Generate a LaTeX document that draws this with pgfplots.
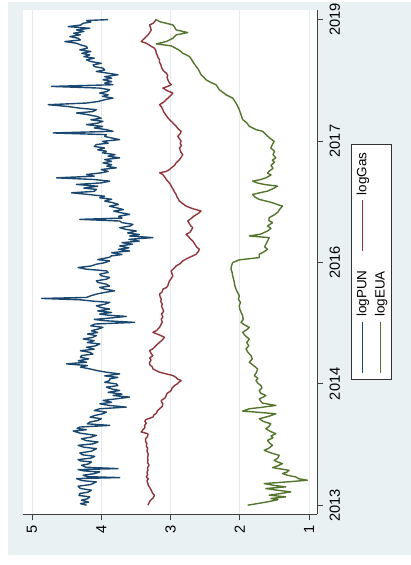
\documentclass[border=0pt]{standalone}
\usepackage{pgfplots}
\usepackage{pgfplotstable}
\pgfplotsset{compat=1.18}
\usepackage{fontspec}
\setmainfont{Liberation Sans}

% Stata s2color palette
\definecolor{stnavy}{RGB}{26,71,111}
\definecolor{stmaroon}{RGB}{144,53,59}
\definecolor{stgreen}{RGB}{85,117,47}
\definecolor{stbg}{RGB}{234,241,243}
\definecolor{stgrid}{RGB}{228,236,239}

% idx = trading-day index (0 = start of 2013), value in logs
\pgfplotstableread{
idx val
0 4.213
5 4.30
10 4.18
16.5 4.285
21 4.20
27.4 4.165
32 4.32
38.4 4.309
43 4.19
49.3 4.141
55 4.30
62.5 4.333
68 4.15
76.7 4.070
81 4.28
87.6 4.357
90.9 3.734
94 4.20
98.6 4.261
104 4.10
109.5 4.022
113 4.25
117.2 4.333
120.5 3.758
125 4.22
131.5 4.285
136 4.18
142.4 4.141
146 4.30
150.1 4.333
155 4.15
161.0 4.093
166 4.27
172.0 4.309
178 4.14
186.2 4.070
191 4.25
197.2 4.333
202 4.12
208.1 4.046
213 4.22
219.1 4.285
224 4.15
230.0 4.070
237 4.30
244.2 4.405
248.6 4.213
253 4.35
257.4 4.309
262.9 3.878
268 4.20
273.8 4.165
279 4.05
284.8 3.998
290 4.16
295.7 4.093
301 3.98
306.7 3.926
312 4.10
317.6 4.022
323.1 3.638
328.6 3.878
334 4.02
339 3.85
345.0 3.974
350 3.80
356.0 3.590
361.4 3.830
366 3.70
372 3.90
377.8 3.734
383 3.85
388.8 3.926
394 3.76
399.7 3.782
405 3.95
410.7 3.878
416.2 3.878
421 3.76
426 3.95
432.6 3.734
438.1 3.926
443 4.05
449.1 4.165
455 4.30
460 4.20
465.5 4.501
471.0 4.213
476 4.33
482 4.18
487 4.30
492.9 4.285
498 4.12
503.8 4.165
509 4.30
514 4.10
520.3 4.213
525 4.08
531.2 4.022
536 4.20
542 4.10
547.6 4.261
553 4.12
558.6 4.070
564 4.20
569 4.05
575.0 4.141
580 4.05
586.0 3.974
591 4.15
596.9 4.093
602.4 3.518
607.9 3.950
612 4.10
617 3.85
622.1 3.638
626 3.90
629.8 4.022
635 3.85
640 4.05
646.2 3.878
651 4.00
657.1 4.070
662 3.95
668.1 3.878
672 4.10
676.8 4.309
681.2 4.861
684.5 4.213
690 4.15
695.5 4.070
701 3.95
706.4 3.806
712 3.95
717.4 4.022
722 3.88
728.3 3.926
734 4.05
739.3 4.070
745 3.92
750.2 3.878
756 4.00
761.2 4.022
767 3.90
772.1 3.926
777.6 4.213
783.1 4.333
788 4.15
794.0 4.070
799 3.95
805.0 3.878
809 4.05
812.6 3.974
817 3.88
821.4 3.854
826 3.70
832 3.85
837.8 3.590
843 3.75
848 3.60
854.2 3.734
860 3.55
865 3.70
870 3.45
876 3.60
881.6 3.254
887.0 3.590
892 3.45
897 3.62
903.5 3.494
909 3.65
914.4 3.734
920 3.58
925.4 3.542
931 3.70
936.3 3.734
941.8 4.309
946 3.70
952 3.75
958.2 3.590
963 3.70
969 3.82
974 3.68
980.1 3.782
985 3.88
991 3.75
996.6 3.830
1002 3.95
1008 3.85
1013.0 4.022
1018 3.95
1023 4.15
1029.4 4.429
1034 4.10
1040.4 4.070
1045 4.25
1051 4.05
1056.8 4.357
1062 4.00
1067.7 3.878
1073 4.10
1078.7 4.645
1084 4.10
1089.6 4.213
1095 4.00
1100 3.90
1106 4.00
1111.5 3.782
1117 3.92
1122 3.85
1128.0 3.974
1133 3.85
1139 3.95
1144.4 3.734
1150 3.90
1155 3.80
1161 3.98
1166.3 3.926
1171 4.05
1177 3.95
1182 4.10
1188.2 4.070
1193 3.90
1199 3.98
1204.6 3.734
1210 3.85
1215 3.95
1221.0 3.926
1226.5 4.693
1232.0 3.830
1237.5 3.926
1243 4.10
1248 3.98
1253.9 4.213
1259 4.05
1264.9 3.974
1270 4.15
1275 4.00
1281.3 4.070
1287 4.20
1292.3 4.357
1297 4.12
1303.2 4.070
1308 4.30
1314.2 4.501
1319.6 4.765
1325.1 4.213
1330 4.05
1336 3.95
1341.5 3.830
1347 3.98
1352 3.90
1358.0 4.022
1363 3.92
1368.9 3.878
1374.4 4.022
1379.9 4.717
1385.4 3.830
1391 3.95
1396 3.85
1401.8 3.974
1407 3.85
1412 3.95
1418.2 3.758
1424 3.92
1429.2 4.070
1434 3.95
1440.1 3.974
1445 4.10
1451.1 4.117
1456 4.00
1462 4.15
1467.5 4.213
1473 4.10
1478 4.25
1483.9 4.165
1489 4.28
1495 4.15
1500.3 4.309
1506 4.20
1511.3 4.213
1517 4.30
1522.2 4.357
1527.7 4.525
1533 4.30
1538.7 4.333
1544.1 4.453
1550 4.30
1555 4.40
1561 4.25
1566.1 4.357
1571.5 4.165
1577.0 4.477
1582 4.30
1588.0 4.261
1592 4.15
1597.0 4.213
1600.0 3.902
}\pun

\pgfplotstableread{
idx val
0 3.326
8 3.31
16 3.29
24 3.25
32.9 3.230
40 3.26
49.3 3.278
58 3.30
65 3.32
71.2 3.326
80 3.34
87 3.32
93.1 3.350
100 3.33
108 3.34
115.0 3.326
124 3.33
132 3.31
140 3.33
147.9 3.326
158 3.33
168 3.32
178 3.34
188 3.33
195 3.35
202.6 3.341
210 3.36
219.1 3.360
227 3.33
235.5 3.326
241.0 3.422
248 3.40
255 3.37
262.9 3.374
270 3.35
276 3.37
281.5 3.360
290.2 3.254
297 3.24
304 3.20
311 3.19
317.6 3.158
325 3.12
334.1 3.110
340 3.13
345.0 3.134
353 3.08
361.4 3.062
368 3.05
377.8 2.990
385 2.98
394.3 2.942
400 2.90
405 2.88
410.7 2.846
416 2.90
421 2.92
427.2 2.966
432 3.05
438.1 3.158
443 3.20
449.1 3.254
455 3.26
463 3.30
471.0 3.302
478 3.28
485 3.30
492.9 3.254
500 3.28
509.3 3.302
516 3.25
523 3.22
530 3.19
536.7 3.158
544 3.12
553.1 3.086
560 3.15
569.5 3.254
576 3.20
586.0 3.158
594 3.14
603 3.12
613.3 3.134
620 3.11
630 3.13
638 3.10
646.2 3.110
655 3.13
663 3.12
671 3.14
679.0 3.134
687 3.15
695.5 3.158
703 3.12
711.9 3.110
717 3.06
722.9 3.038
730 3.03
739.3 3.014
747 2.99
755.7 2.966
763 2.98
772.1 2.990
780 2.95
788.5 2.918
796 2.86
805.0 2.823
813 2.76
821.4 2.679
826.8 2.631
835 2.60
843.2 2.583
850 2.62
857 2.64
864 2.66
870.6 2.679
877 2.71
885 2.74
892.5 2.775
899 2.72
906 2.70
914.4 2.679
921 2.71
929 2.73
936.3 2.751
945 2.70
953 2.66
961 2.60
969.2 2.559
977 2.68
985.6 2.775
993 2.82
1002.0 2.871
1010 2.89
1017 2.91
1023.9 2.919
1031 2.94
1040 2.96
1051.3 2.990
1060 3.01
1070 3.05
1080 3.08
1089.6 3.110
1095.1 3.158
1100 3.06
1106.1 3.014
1113 2.98
1120 2.94
1128.0 2.919
1136 2.88
1145 2.85
1155.3 2.823
1163 2.85
1170 2.86
1177.2 2.871
1185 2.84
1192 2.86
1199.1 2.847
1207 2.87
1215.6 2.895
1224 2.86
1232.0 2.847
1240 2.89
1248.5 2.919
1256 2.95
1263 2.98
1270.4 3.014
1280 3.05
1290 3.08
1297 3.10
1303.2 3.110
1312 3.13
1319.6 3.158
1328 3.10
1336.1 3.062
1345 3.02
1352 2.99
1358.0 2.966
1366 3.05
1374.4 3.110
1380 3.04
1385.4 2.990
1393 3.02
1401.8 3.038
1410 3.05
1417 3.04
1423.7 3.062
1431 3.10
1438 3.12
1445.6 3.134
1452 3.14
1460 3.16
1467.5 3.158
1475 3.18
1482 3.19
1489.4 3.206
1497 3.21
1505.8 3.230
1512 3.28
1517 3.31
1522.2 3.350
1527.7 3.422
1533 3.40
1538.7 3.374
1544 3.35
1549.6 3.326
1557 3.30
1566.1 3.278
1574 3.29
1582.5 3.302
1588 3.25
1593.4 3.230
1600.0 3.206
}\gas

\pgfplotstableread{
idx val
0 1.887
5 1.75
11.0 1.600
18 1.45
22 1.55
27.4 1.336
32.9 1.576
38 1.42
43.8 1.264
49 1.45
54.8 1.623
60.3 1.336
65 1.50
71.2 1.647
77 1.30
82.2 1.024
87 1.15
93.1 1.192
98 1.30
104.1 1.384
109 1.32
115.0 1.288
119 1.40
123.8 1.528
130 1.45
136.9 1.384
142 1.45
147.9 1.504
155 1.45
164.3 1.432
172 1.55
180.7 1.647
188 1.58
197.2 1.528
205 1.57
213.6 1.600
222 1.52
228 1.55
235.5 1.480
243 1.56
251.9 1.623
259 1.58
268.3 1.552
276 1.66
284.8 1.719
293 1.58
301.2 1.480
306.7 1.767
310.0 1.959
317.6 1.863
322 1.70
328.6 1.480
336.2 1.671
343 1.70
350.5 1.719
356 1.66
361.4 1.623
369 1.70
377.8 1.719
386 1.68
394.3 1.695
402 1.74
410.7 1.767
418 1.74
427.2 1.791
437 1.76
449.1 1.743
460 1.80
471.0 1.863
482 1.82
492.9 1.839
503 1.88
514.8 1.911
525 1.87
536 1.90
547.6 1.863
558 1.92
569.5 1.959
578 1.90
586.0 1.863
594 1.93
602.4 1.983
612 1.95
624.3 1.959
635 1.98
646 2.00
657.1 2.007
668 1.99
679 2.02
690.0 2.007
700 2.03
711.9 2.055
722 2.07
733.8 2.079
745 2.09
755.7 2.103
766 2.11
777.6 2.127
788 2.12
799.5 2.103
808.3 2.007
815.9 1.719
826.8 1.719
835 1.65
843.2 1.600
851 1.64
859.7 1.623
870 1.60
881.6 1.576
887.0 1.863
893 1.70
903.5 1.600
912 1.55
920 1.60
930.8 1.528
938 1.58
947.3 1.576
957 1.50
966 1.45
976 1.42
985.6 1.384
990 1.45
996.6 1.528
1002 1.62
1007.5 1.719
1015 1.78
1023.9 1.815
1030 1.70
1034.9 1.600
1043 1.52
1051.3 1.456
1056.8 1.647
1062 1.75
1067.7 1.815
1073 1.70
1078.7 1.623
1088 1.55
1094 1.60
1100.6 1.576
1110 1.52
1120 1.55
1130 1.50
1137 1.53
1144.4 1.480
1155 1.52
1166 1.50
1177.2 1.552
1188 1.53
1199.1 1.504
1210 1.57
1221.0 1.623
1232.0 1.671
1237.5 1.767
1248.5 1.863
1260 1.90
1270.4 1.959
1285 1.98
1303.2 2.007
1314 2.03
1325.1 2.055
1341.5 2.103
1352.5 2.199
1360 2.24
1368.9 2.295
1385.4 2.343
1393 2.42
1401.8 2.487
1418.2 2.559
1429.2 2.583
1437 2.60
1445.6 2.631
1462.0 2.679
1470 2.70
1478.4 2.727
1489.4 2.823
1500 2.88
1513.5 2.990
1520.1 3.206
1527.7 3.062
1538.7 2.966
1549.6 2.919
1557.3 2.751
1566.1 2.919
1575 2.94
1582.5 2.966
1593.4 3.158
1600.0 3.206
}\eua

\begin{document}
\begin{tikzpicture}[rotate=90, transform shape]
  % page and graph region
  \fill[white] (0pt,0pt) rectangle (565pt,412pt);
  \fill[stbg] (10pt,0pt) rectangle (565pt,404pt);
  \begin{axis}[
    at={(51pt,94pt)}, anchor=south west,
    width=506pt, height=295pt, scale only axis,
    xmin=-29.6, xmax=1632.8, ymin=0.885, ymax=5.13,
    axis background/.style={fill=white},
    axis x line*=bottom, axis y line*=left,
    axis line style={-, draw=black!75, line width=0.7pt},
    tick align=outside, major tick length=6pt,
    tick style={draw=black!75, line width=0.7pt},
    xtick={0,400,800,1200,1600},
    xticklabels={2013,2014,2016,2017,2019},
    ytick={1,2,3,4,5},
    ymajorgrids, grid style={stgrid, line width=0.8pt},
    /pgf/number format/assume math mode=true,
    ticklabel style={font=\fontsize{14.7}{16}\selectfont},
    xticklabel style={yshift=-3pt},
    yticklabel style={xshift=-2pt},
    legend columns=2,
    legend cell align=left,
    legend image code/.code={\draw[#1, line width=0.6pt] (0pt,0pt) -- (51pt,0pt);},
    legend style={
      at={(axis description cs:0.5,0)}, anchor=north, yshift=-34pt,
      draw=black!80, line width=0.6pt, fill=white,
      font=\fontsize{13.5}{15}\selectfont,
      inner xsep=6pt, inner ysep=4pt,
      nodes={inner ysep=1.5pt},
      /tikz/every odd column/.append style={column sep=3pt},
      /tikz/every even column/.append style={column sep=17pt},
      row sep=4pt,
    },
    no markers,
    every axis plot/.append style={line width=1.4pt, line join=round},
  ]
    \addplot[stnavy] table[x=idx, y=val] {\pun};
    \addlegendentry{logPUN}
    \addplot[stmaroon] table[x=idx, y=val] {\gas};
    \addlegendentry{logGas}
    \addplot[stgreen] table[x=idx, y=val] {\eua};
    \addlegendentry{logEUA}
  \end{axis}
\end{tikzpicture}
\end{document}
